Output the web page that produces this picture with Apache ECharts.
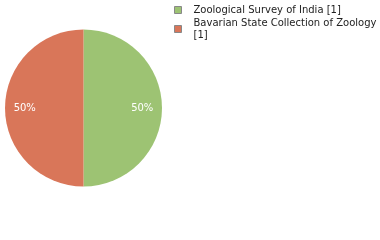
<!DOCTYPE html>
<html><head><meta charset="utf-8">
<script src="https://cdn.jsdelivr.net/npm/echarts@6/dist/echarts.min.js"></script>
<style>html,body{margin:0;padding:0;background:#fff}#c{width:380px;height:240px}</style>
</head><body><div id="c"></div>
<script>
const categories = ['Zoological Survey of India', 'Bavarian State Collection of Zoology'];
const counts = [1, 1];
const colors = ['#9dc373', '#d97659'];

const data = categories.map((n, i) => ({ name: n, value: counts[i], itemStyle: { color: colors[i] } }));
const countOf = {};
categories.forEach((n, i) => countOf[n] = counts[i]);

const chart = echarts.init(document.getElementById('c'), null, { renderer: 'canvas' });
chart.setOption({
  animation: false,
  legend: {
    orient: 'vertical',
    left: 174,
    top: 4,
    padding: 0,
    itemWidth: 7,
    itemHeight: 7,
    itemGap: 1,
    icon: 'rect',
    itemStyle: { borderColor: '#888', borderWidth: 1 },
    textStyle: { fontFamily: 'DejaVu Sans', fontSize: 10, color: '#222', width: 192, overflow: 'break', lineHeight: 12, padding: [0, 0, 0, 7] },
    formatter: n => n + ' [' + countOf[n] + ']',
    data: categories
  },
  series: [
    {
      type: 'pie', center: [83.5, 108], radius: [0, 78.5], startAngle: 90, clockwise: true,
      silent: true, label: { show: false }, labelLine: { show: false },
      data: data
    },
    {
      type: 'pie', center: [83.5, 108], radius: [33, 78.5], startAngle: 90, clockwise: true,
      silent: true, legendHoverLink: false,
      itemStyle: { color: 'rgba(0,0,0,0)' },
      label: { show: true, position: 'inside', formatter: p => Math.round(p.percent) + '%', color: '#fff', fontFamily: 'DejaVu Sans', fontSize: 10 },
      labelLine: { show: false },
      data: categories.map((n, i) => ({ name: n, value: counts[i], itemStyle: { color: 'rgba(0,0,0,0)' } }))
    }
  ]
});
</script></body></html>
